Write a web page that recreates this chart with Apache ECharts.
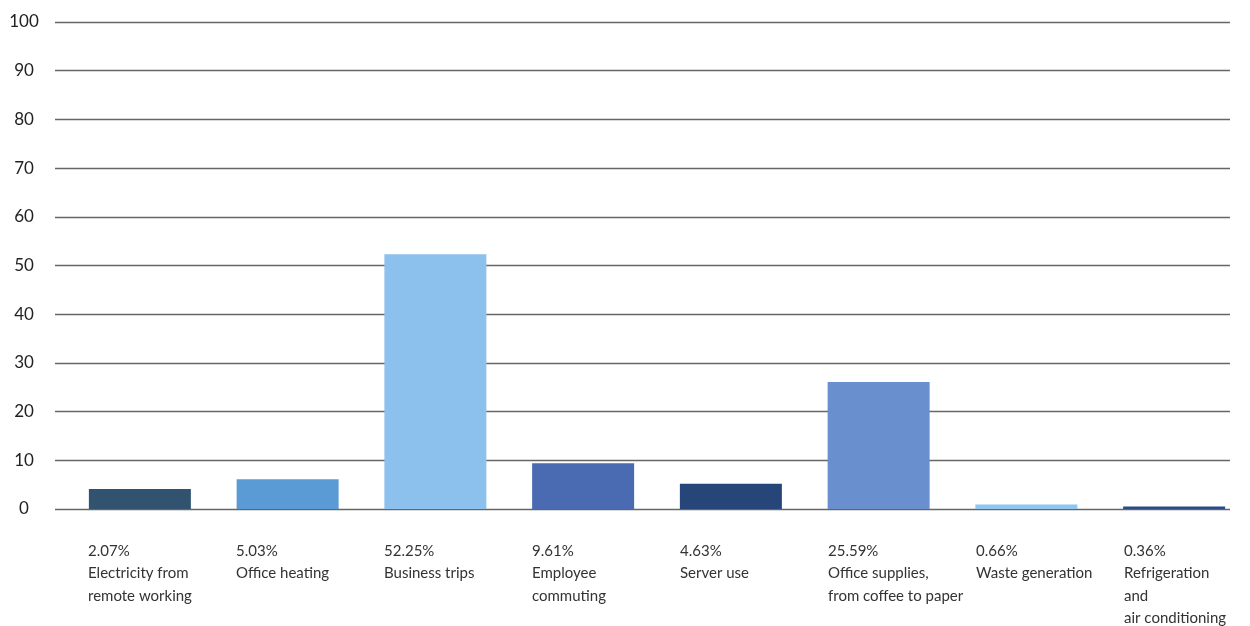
<!DOCTYPE html>
<html>
<head>
<meta charset="utf-8">
<script src="https://cdn.jsdelivr.net/npm/echarts@6/dist/echarts.min.js"></script>
<style>
html,body{margin:0;padding:0;background:#fff;}
#chart{width:1250px;height:626px;}
</style>
</head>
<body>
<div id="chart"></div>
<script>
// Categories and values
var percentLabels = ['2.07%', '5.03%', '52.25%', '9.61%', '4.63%', '25.59%', '0.66%', '0.36%'];
var categoryNames = ['Electricity from\nremote working', 'Office heating', 'Business trips', 'Employee\ncommuting', 'Server use', 'Office supplies,\nfrom coffee to paper', 'Waste generation', 'Refrigeration\nand\nair conditioning'];
// bar heights as drawn in the picture
var barValues = [4.1, 6.1, 52.3, 9.4, 5.2, 26.1, 0.9, 0.5];
var barColors = ['#32536f', '#5b9bd5', '#8cc1ed', '#4a6ab1', '#26467a', '#6a8fcf', '#8ec5f1', '#2b4a88'];
var yTicks = [0, 10, 20, 30, 40, 50, 60, 70, 80, 90, 100];

var catKeys = categoryNames.map(function (n, i) { return 'c' + i; });
var fullLabels = categoryNames.map(function (n, i) { return percentLabels[i] + '\n' + n; });

var chart = echarts.init(document.getElementById('chart'));
var FONT = 'Lato, "Noto Sans", sans-serif';
var option = {
  animation: false,
  backgroundColor: '#ffffff',
  grid: [
    { left: 66, width: 1182, top: 22, height: 487, containLabel: false, outerBoundsMode: 'none' },   // bars
    { left: 55, width: 1175, top: 22, height: 487, containLabel: false, outerBoundsMode: 'none' },   // y axis & grid lines
    { left: 14, width: 1184, top: 22, height: 487, containLabel: false, outerBoundsMode: 'none' }    // category labels
  ],
  xAxis: [
    { gridIndex: 0, type: 'category', data: catKeys, boundaryGap: true,
      axisLine: { show: false }, axisTick: { show: false }, axisLabel: { show: false }, splitLine: { show: false } },
    { gridIndex: 1, type: 'category', data: catKeys, show: true,
      axisLine: { show: false }, axisTick: { show: false }, axisLabel: { show: false }, splitLine: { show: false } },
    { gridIndex: 2, type: 'category', data: fullLabels, boundaryGap: true,
      axisLine: { show: false }, axisTick: { show: false }, splitLine: { show: false },
      axisLabel: { show: true, interval: 0, align: 'left', verticalAlign: 'top', margin: 31,
        color: '#333333', fontSize: 15, lineHeight: 22.3, fontFamily: FONT } }
  ],
  yAxis: [
    { gridIndex: 0, type: 'value', min: 0, max: 100, interval: 10, show: false },
    { gridIndex: 1, type: 'value', min: 0, max: 100, interval: 10,
      axisLine: { show: false }, axisTick: { show: false },
      axisLabel: { show: true, align: 'center', margin: 31, color: '#222222', fontSize: 17, fontFamily: FONT,
        formatter: function (v) { return yTicks.indexOf(v) >= 0 ? String(v) : ''; } },
      splitLine: { show: true, lineStyle: { color: '#666666', width: 1.3 } } },
    { gridIndex: 2, type: 'value', min: 0, max: 100, show: false }
  ],
  series: [
    { type: 'bar', xAxisIndex: 0, yAxisIndex: 0, barWidth: 102,
      data: barValues.map(function (v, i) { return { value: v, itemStyle: { color: barColors[i] } }; }),
      label: { show: false } }
  ]
};
chart.setOption(option);
</script>
</body>
</html>
